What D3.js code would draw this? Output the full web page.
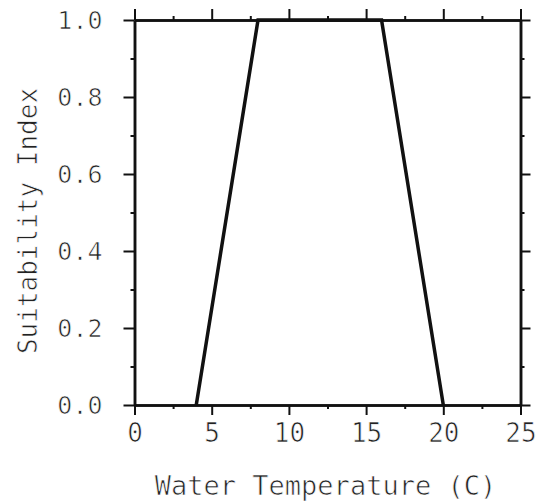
<!DOCTYPE html>
<html>
<head>
<meta charset="utf-8">
<script src="https://cdn.jsdelivr.net/npm/d3@7"></script>
<style>
  html, body { margin: 0; padding: 0; background: #fff; }
  svg { display: block; }
</style>
</head>
<body>
<svg id="chart" width="553" height="504"></svg>
<script>
// ---- data ----
const temperature = [4, 8, 16, 20];
const suitability = [0, 1, 1, 0];
const xTickValues = [0, 5, 10, 15, 20, 25];
const xMinorTicks = [2.5, 7.5, 12.5, 17.5, 22.5];
const yTickValues = [0.0, 0.2, 0.4, 0.6, 0.8, 1.0];
const yMinorTicks = [0.1, 0.3, 0.5, 0.7, 0.9];
const xTitle = "Water Temperature (C)";
const yTitle = "Suitability Index";

// ---- layout ----
const svg = d3.select("#chart");
const x = d3.scaleLinear().domain([0, 25]).range([134.5, 520.5]);
const y = d3.scaleLinear().domain([0, 1]).range([405, 20]);
const ink = "#111";
const textInk = "#222";
const font = "'DejaVu Sans Mono', 'Liberation Mono', monospace";

function thinText(sel) {
  // thin, plotter-like glyph strokes
  sel.attr("fill", textInk).attr("stroke", "#fff").attr("stroke-width", 0.7)
     .attr("font-family", font);
}

function styleAxis(g, tickW) {
  g.select(".domain").attr("stroke", ink).attr("stroke-width", 2.5);
  g.selectAll(".tick line").attr("stroke", ink).attr("stroke-width", tickW);
  thinText(g.selectAll(".tick text"));
}

// minor ticks (no labels)
const minorDefs = [
  [d3.axisBottom(x).tickValues(xMinorTicks), `translate(0,${y(0)})`],
  [d3.axisTop(x).tickValues(xMinorTicks), `translate(0,${y(1)})`],
  [d3.axisLeft(y).tickValues(yMinorTicks), `translate(${x(0)},0)`],
  [d3.axisRight(y).tickValues(yMinorTicks), `translate(${x(25)},0)`]
];
minorDefs.forEach(([ax, tr]) => {
  const g = svg.append("g").attr("transform", tr)
    .call(ax.tickSize(4).tickSizeOuter(0).tickFormat(""));
  styleAxis(g, 2);
});

// major ticks
const gx = svg.append("g").attr("transform", `translate(0,${y(0)})`)
  .call(d3.axisBottom(x).tickValues(xTickValues).tickSize(10).tickSizeOuter(0)
    .tickPadding(7).tickFormat(d3.format("d")));
styleAxis(gx, 2);
gx.selectAll(".tick text").attr("font-size", 26).attr("dy", "0.75em");

const gxt = svg.append("g").attr("transform", `translate(0,${y(1)})`)
  .call(d3.axisTop(x).tickValues(xTickValues).tickSize(11).tickSizeOuter(0).tickFormat(""));
styleAxis(gxt, 2);

const gy = svg.append("g").attr("transform", `translate(${x(0)},0)`)
  .call(d3.axisLeft(y).tickValues(yTickValues).tickSize(11).tickSizeOuter(0)
    .tickPadding(21).tickFormat(d3.format(".1f")));
styleAxis(gy, 2);
gy.selectAll(".tick text").attr("font-size", 25);

const gyr = svg.append("g").attr("transform", `translate(${x(25)},0)`)
  .call(d3.axisRight(y).tickValues(yTickValues).tickSize(10).tickSizeOuter(0).tickFormat(""));
styleAxis(gyr, 2);

// ---- the curve ----
const pts = temperature.map((t, i) => [t, suitability[i]]);
svg.append("path")
  .datum(pts)
  .attr("fill", "none")
  .attr("stroke", ink)
  .attr("stroke-width", 3.5)
  .attr("stroke-linejoin", "miter")
  .attr("d", d3.line().x(d => x(d[0])).y(d => y(d[1])));

// ---- titles ----
svg.append("text")
  .attr("x", (x(0) + x(25)) / 2 - 2)
  .attr("y", 495)
  .attr("text-anchor", "middle")
  .attr("font-size", 27)
  .call(thinText)
  .text(xTitle);

svg.append("text")
  .attr("transform", `translate(37,221) rotate(-90)`)
  .attr("text-anchor", "middle")
  .attr("font-size", 26)
  .call(thinText)
  .text(yTitle);
</script>
</body>
</html>
